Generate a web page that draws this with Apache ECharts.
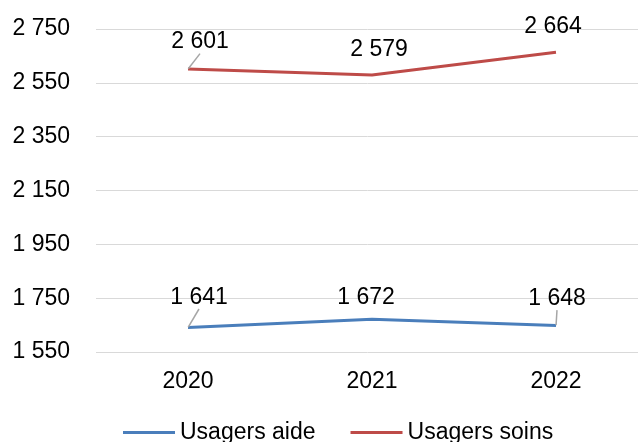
<!DOCTYPE html>
<html lang="fr">
<head>
    <meta charset="UTF-8">
    <title>Usagers</title>
    <script src="https://cdn.jsdelivr.net/npm/echarts@6/dist/echarts.min.js"></script>
    <style>
        html, body { margin: 0; padding: 0; background: #fff; }
        #app { width: 638px; height: 442px; }
    </style>
</head>
<body>
    <div id="app"></div>
    <script>
        // données
        const annees = ['2020', '2021', '2022'];
        const usagersAide = [1641, 1672, 1648];
        const usagersSoins = [2601, 2579, 2664];

        // décalage des étiquettes (comme dans le graphique Excel)
        const offsetsAide = [[11, -30], [-6, -22], [1, -27]];
        const offsetsSoins = [[12, -27], [7, -25], [-3, -25]];
        // lignes de repère visibles
        const repereAide = [true, false, true];
        const repereSoins = [true, false, false];

        const fmt = v => String(v).replace(/\B(?=(\d{3})+(?!\d))/g, ' ');
        const font = 'Liberation Sans, Arial, sans-serif';
        const fontSize = 23;
        const bleu = '#4a7ebb';
        const rouge = '#be4b48';

        function buildData(values, offsets, reperes) {
            return values.map((v, i) => ({
                value: v,
                label: { offset: offsets[i] },
                labelLine: { show: reperes[i] }
            }));
        }

        function serie(name, values, offsets, reperes, color) {
            return {
                name: name,
                type: 'line',
                data: buildData(values, offsets, reperes),
                symbol: 'circle',
                symbolSize: 1,
                lineStyle: { color: color, width: 3 },
                itemStyle: { color: 'transparent' },
                label: {
                    show: true,
                    position: 'inside',
                    color: '#000',
                    fontSize: fontSize,
                    fontFamily: font,
                    formatter: p => fmt(p.value)
                },
                labelLine: { show: true, lineStyle: { color: '#a6a6a6', width: 1.5 } }
            };
        }

        const myChart = echarts.init(document.getElementById('app'));

        const option = {
            animation: false,
            textStyle: { fontFamily: font },
            grid: { left: 96, width: 552, top: 29, bottom: 90, containLabel: false, outerBoundsMode: 'none' },
            legend: {
                top: 416,
                left: 118,
                itemWidth: 52,
                itemHeight: 3,
                itemGap: 35,
                textStyle: { fontSize: fontSize, color: '#000', fontFamily: font },
                data: [
                    { name: 'Usagers aide', icon: 'rect', itemStyle: { color: bleu, opacity: 1 } },
                    { name: 'Usagers soins', icon: 'rect', itemStyle: { color: rouge, opacity: 1 } }
                ]
            },
            xAxis: {
                type: 'category',
                data: annees,
                boundaryGap: true,
                axisLine: { show: false },
                axisTick: { show: false },
                axisLabel: { color: '#000', fontSize: fontSize, margin: 18, fontFamily: font }
            },
            yAxis: {
                type: 'value',
                min: 1550,
                max: 2750,
                interval: 200,
                axisLine: { show: false },
                axisTick: { show: false },
                splitLine: { lineStyle: { color: '#d9d9d9', width: 1 } },
                axisLabel: {
                    color: '#000', fontSize: fontSize, margin: 26, fontFamily: font,
                    formatter: v => fmt(v)
                }
            },
            series: [
                serie('Usagers aide', usagersAide, offsetsAide, repereAide, bleu),
                serie('Usagers soins', usagersSoins, offsetsSoins, repereSoins, rouge)
            ]
        };

        myChart.setOption(option);
    </script>
</body>
</html>
